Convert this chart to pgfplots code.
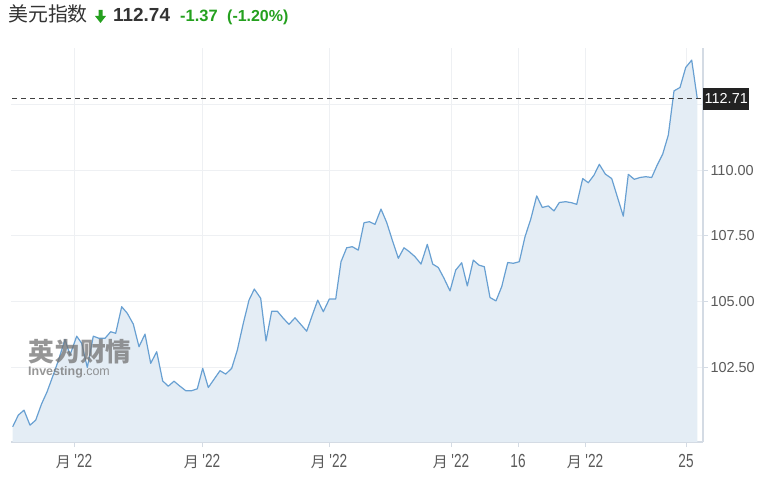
\documentclass[border=0pt]{standalone}
\usepackage{pgfplots}
\pgfplotsset{compat=1.18}
\usepackage{pgfplotstable}
\usepackage{fontspec}
\setmainfont{Liberation Sans}
\newfontfamily\cjk{Noto Sans CJK SC}
\newfontfamily\narrow{Liberation Sans}[FakeStretch=0.72]

\definecolor{linec}{RGB}{104,160,210}
\definecolor{fillc}{RGB}{228,237,245}
\definecolor{gridc}{RGB}{238,240,243}
\definecolor{axisc}{RGB}{212,219,228}
\definecolor{txt}{RGB}{51,51,51}
\definecolor{tickc}{RGB}{90,90,90}
\definecolor{upgreen}{RGB}{36,160,30}
\definecolor{boxc}{RGB}{34,34,34}

% x in chart pixels, y = index value
\pgfplotstableread{
x y
12.7 100.25
18.3 100.69
24.0 100.88
30.0 100.31
35.7 100.50
41.5 101.11
47.0 101.57
52.5 102.14
58.5 102.78
65.0 103.57
70.0 102.97
76.7 103.69
81.7 103.42
87.3 102.50
93.3 103.69
99.0 103.61
105.0 103.61
110.7 103.86
115.7 103.80
121.7 104.81
127.3 104.56
133.3 104.15
139.0 103.29
145.0 103.77
150.7 102.66
156.7 103.10
162.7 101.99
168.3 101.79
174.0 101.98
180.0 101.79
185.7 101.62
191.7 101.62
197.3 101.69
202.7 102.47
208.3 101.74
214.0 102.05
220.0 102.38
225.7 102.25
231.7 102.47
237.3 103.16
243.3 104.18
249.0 105.06
254.3 105.48
260.7 105.13
266.0 103.51
271.7 104.64
277.3 104.64
283.3 104.37
289.0 104.14
295.0 104.39
300.7 104.14
306.7 103.88
312.3 104.49
317.7 105.06
323.3 104.62
329.3 105.10
335.7 105.10
341.0 106.52
346.7 107.05
352.3 107.09
358.3 106.96
364.0 108.00
369.3 108.04
375.0 107.94
381.0 108.52
386.7 108.01
392.3 107.34
398.3 106.65
404.0 107.05
409.3 106.90
415.0 106.71
421.0 106.43
427.3 107.18
432.7 106.43
438.3 106.30
444.0 105.89
450.0 105.41
455.7 106.20
461.7 106.48
467.3 105.60
473.3 106.58
479.0 106.39
484.3 106.33
490.0 105.16
496.0 105.03
501.7 105.57
507.7 106.49
513.3 106.46
519.3 106.52
525.0 107.47
530.7 108.13
536.7 109.02
542.3 108.58
548.3 108.64
554.0 108.45
559.3 108.77
565.7 108.80
571.7 108.76
576.7 108.70
582.7 109.68
588.3 109.52
594.0 109.81
599.3 110.22
605.3 109.85
611.7 109.68
617.3 108.99
623.3 108.25
628.3 109.84
634.3 109.65
640.0 109.72
645.7 109.75
651.7 109.72
656.7 110.15
662.7 110.61
668.3 111.33
674.0 113.01
680.0 113.14
685.7 113.90
691.7 114.18
697.3 112.71
}\dxy

\newcommand\mlab{{\fontsize{15}{15}\cjk 月}~'22}

\begin{document}
\begin{tikzpicture}
\path[use as bounding box] (0,0) rectangle (777bp,484bp);

% title
\node[anchor=base west, inner sep=0, text=txt, font=\fontsize{20}{20}\cjk] at (8bp,462bp) {美元指数};
\fill[upgreen] (98.5bp,474bp) -- (102.5bp,474bp) -- (102.5bp,468bp) -- (106bp,468bp)
  -- (100.5bp,461bp) -- (95bp,468bp) -- (98.5bp,468bp) -- cycle;
\node[anchor=base west, inner sep=0, text=txt, font=\fontsize{19}{19}\selectfont\bfseries] at (113bp,462bp) {112.74};
\node[anchor=base west, inner sep=0, text=upgreen, font=\fontsize{16.5}{16.5}\selectfont\bfseries] at (180bp,462bp) {-1.37};
\node[anchor=base west, inner sep=0, text=upgreen, font=\fontsize{16}{16}\selectfont\bfseries] at (227bp,462bp) {(-1.20\%)};

\begin{axis}[
  at={(11bp,42bp)}, anchor=south west,
  scale only axis, width=692bp, height=394bp,
  xmin=11, xmax=703, ymin=99.67, ymax=114.64,
  axis x line*=bottom, axis y line*=right,
  axis line style={draw=axisc, line width=1.2bp, -},
  xtick={74,202,329,451,518,585,686},
  xticklabels={\mlab,\mlab,\mlab,\mlab,16,\mlab,25},
  ytick={102.5,105,107.5,110,112.5},
  yticklabels={102.50,105.00,107.50,110.00,{}},
  tick align=outside,
  major tick length=5bp,
  tick style={draw=axisc, line width=1bp},
  grid=major, major grid style={draw=gridc, line width=1bp},
  clip mode=individual,
  x tick label style={font=\fontsize{19}{19}\narrow, text=tickc, yshift=-4bp},
  y tick label style={font=\fontsize{14.5}{14.5}\selectfont, text=tickc, xshift=-1bp},
]
\addplot[draw=none, fill=fillc] table[x=x, y=y] {\dxy} \closedcycle;
\addplot[linec, line width=1.2bp, line join=round] table[x=x, y=y] {\dxy};
\addplot[draw=black!75, line width=1bp, dash pattern=on 5bp off 4bp] coordinates {(12,112.71) (703,112.71)};
\node[anchor=west, fill=boxc, text=white, inner xsep=1.5bp, minimum height=22bp,
  font=\fontsize{14.5}{14.5}\selectfont] at (axis cs:703,112.71) {112.71};
\end{axis}

% watermark
\node[anchor=west, inner sep=0, text=black!55, opacity=0.75, font=\fontsize{26}{26}\cjk\bfseries] at (28bp,132bp) {英为财情};
\node[anchor=base west, inner sep=0, text=black!55, opacity=0.75, font=\fontsize{12.5}{12.5}\selectfont] at (28bp,108bp) {\textbf{Investing}.com};
\end{tikzpicture}
\end{document}
